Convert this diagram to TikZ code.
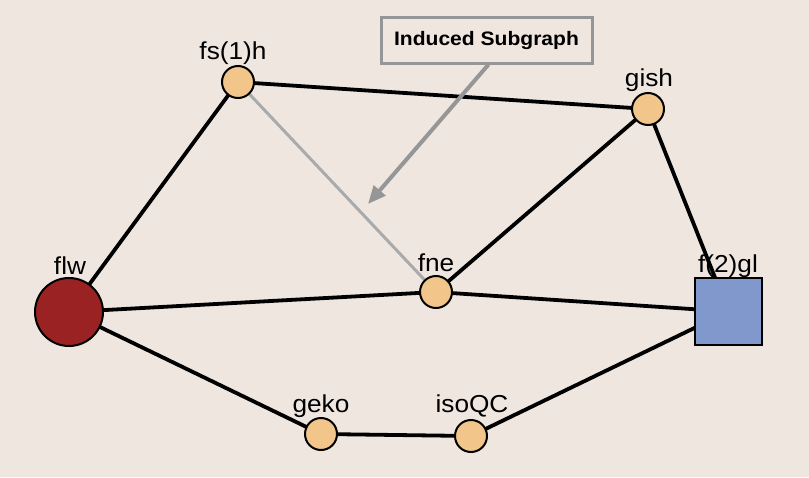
\documentclass[tikz,border=0pt]{standalone}
\usepackage{fontspec}
\setmainfont{Liberation Sans}
\usetikzlibrary{arrows.meta,backgrounds}
\definecolor{bgc}{RGB}{239,230,224}
\definecolor{nodeorange}{RGB}{242,198,138}
\definecolor{nodered}{RGB}{155,34,34}
\definecolor{nodeblue}{RGB}{128,152,204}
\definecolor{edgegray}{RGB}{170,170,170}
\definecolor{boxgray}{RGB}{150,150,150}
\begin{document}
\begin{tikzpicture}[x=1pt,y=-1pt,
  small/.style={circle,draw=black,line width=2pt,fill=nodeorange,minimum size=32pt,inner sep=0pt},
  big/.style={circle,draw=black,line width=2pt,fill=nodered,minimum size=68pt,inner sep=0pt},
  sq/.style={rectangle,draw=black,line width=2pt,fill=nodeblue,minimum size=67pt,inner sep=0pt},
  lbl/.style={font=\fontsize{24.5}{26}\selectfont,inner sep=0pt,xscale=1.07},
  edge/.style={line width=3.8pt,black},
  grayedge/.style={line width=3pt,edgegray},
  callout/.style={draw=boxgray,line width=3pt,fill=bgc,minimum width=211pt,minimum height=46pt},
  callouttext/.style={font=\bfseries\fontsize{19.5}{21}\selectfont,inner sep=0pt,xscale=1.08},
  pointer/.style={line width=4pt,boxgray,-{Triangle[length=18pt,width=15pt]}}
]
\useasboundingbox (0,0) rectangle (809,477);

\node[small] (fsh) at (238,82) {};
\node[small] (gish) at (648,109) {};
\node[big] (flw) at (69,312) {};
\node[small] (fne) at (436,292) {};
\node[sq] (fgl) at (728.5,311.5) {};
\node[small] (geko) at (321,434) {};
\node[small] (iso) at (471,436) {};

\node[lbl] (lfsh) at (233,53) {fs(1)h};
\node[lbl] (lgish) at (649,80) {gish};
\node[lbl] (lflw) at (70,266) {flw};
\node[lbl] (lfne) at (436,263) {fne};
\node[lbl] (lfgl) at (728,266) {f(2)gl};
\node[lbl] (lgeko) at (321,406) {geko};
\node[lbl] (liso) at (472,406) {isoQC};

\begin{scope}[on background layer]
\fill[bgc] (0,0) rectangle (809,477);
\draw[grayedge] (fsh.center) -- (fne.center);
\draw[edge] (fsh.center) -- (gish.center);
\draw[edge] (fsh.center) -- (flw.center);
\draw[edge] (gish.center) -- (fne.center);
\draw[edge] (gish.center) -- (fgl.center);
\draw[edge] (flw.center) -- (fne.center);
\draw[edge] (fne.center) -- (fgl.center);
\draw[edge] (flw.center) -- (geko.center);
\draw[edge] (geko.center) -- (iso.center);
\draw[edge] (iso.center) -- (fgl.center);
\end{scope}

\node[callout] (box) at (486.5,40) {};
\node[callouttext] (boxtext) at (box.center) {Induced Subgraph};
\coordinate (tip) at (368,204);
\draw[pointer] (box.south) ++(2,0) coordinate (start) (start) -- (tip);
\end{tikzpicture}
\end{document}
